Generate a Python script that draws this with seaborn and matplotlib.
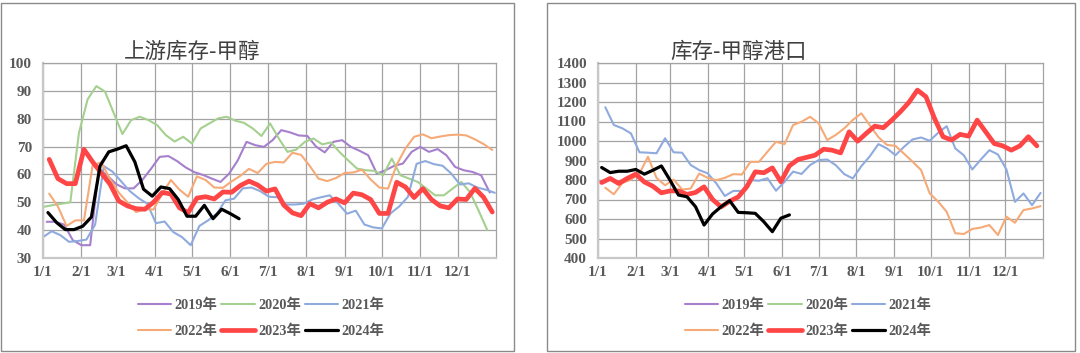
import numpy as np
import pandas as pd
import matplotlib
matplotlib.use('Agg')
import matplotlib.pyplot as plt
from matplotlib.lines import Line2D
from matplotlib.patches import Rectangle
import seaborn as sns

# ---- data (weekly readings) ----
years = ['2019年', '2020年', '2021年', '2022年', '2023年', '2024年']
month_labels = ['1/1', '2/1', '3/1', '4/1', '5/1', '6/1',
                '7/1', '8/1', '9/1', '10/1', '11/1', '12/1']

# upstream methanol inventory (left panel)
up_2019 = [43.0, 43.0, 42.0, 36.4, 34.6, 34.6, 62.0, 59.5, 56.5, 55.0,
           55.0, 58.0, 62.0, 66.3, 66.6, 64.8, 62.5, 60.8, 59.8, 58.5,
           57.3, 60.3, 65.1, 71.7, 70.5, 69.9, 72.3, 75.9, 75.1, 74.0,
           73.8, 70.0, 67.9, 71.7, 72.3, 69.9, 68.5, 66.9, 60.3, 61.5,
           63.1, 63.9, 68.1, 69.9, 68.1, 69.1, 66.9, 62.7, 61.5, 60.9,
           59.7, 53.5]
up_2020 = [48.4, 49.0, 49.5, 50.0, 75.0, 87.0, 91.7, 89.7, 82.0, 74.5,
           79.5, 80.7, 79.5, 77.7, 74.1, 71.8, 73.5, 71.1, 76.5, 78.3,
           80.1, 80.7, 79.3, 78.5, 76.5, 73.8, 78.3, 72.9, 68.1, 68.9,
           71.7, 72.9, 70.8, 71.5, 68.0, 65.0, 62.1, 61.5, 61.3, 59.7,
           65.7, 59.7, 58.5, 57.3, 54.9, 52.5, 52.5, 54.9, 57.3, 53.7,
           47.0, 40.0]
up_2021 = [37.5, 39.6, 38.2, 35.8, 36.1, 36.6, 42.0, 63.0, 61.0, 57.5,
           54.0, 51.5, 49.5, 42.5, 43.1, 39.3, 37.5, 34.6, 41.5, 43.5,
           45.9, 50.7, 51.3, 55.0, 55.3, 54.0, 52.0, 51.8, 49.2, 49.2,
           49.5, 51.0, 51.8, 52.5, 49.5, 45.9, 47.0, 42.0, 41.0, 40.6,
           46.0, 48.5, 51.9, 63.8, 64.8, 63.7, 63.1, 60.3, 56.4, 56.8,
           55.3, 54.5, 53.4]
up_2022 = [53.1, 48.5, 41.5, 43.5, 43.5, 63.3, 64.3, 58.3, 53.5, 50.0,
           46.5, 47.5, 47.4, 53.0, 58.0, 54.5, 52.0, 59.3, 58.0, 55.3,
           55.2, 57.5, 59.5, 62.0, 60.5, 63.8, 64.5, 64.3, 67.8, 67.0,
           63.0, 58.5, 57.6, 58.7, 60.5, 60.7, 61.7, 58.2, 55.3, 54.9,
           63.5, 69.3, 73.5, 74.4, 73.0, 73.6, 74.1, 74.3, 74.0, 72.6,
           70.9, 68.8]
up_2023 = [65.4, 58.5, 56.7, 56.7, 69.0, 64.5, 60.5, 56.5, 50.5, 48.7,
           47.7, 47.5, 50.0, 53.5, 53.0, 48.0, 46.3, 51.5, 52.0, 51.2,
           53.7, 53.6, 56.0, 57.6, 56.2, 54.0, 54.8, 49.0, 46.2, 45.2,
           49.5, 48.0, 50.0, 51.2, 49.8, 53.3, 52.7, 51.0, 46.0, 46.0,
           57.2, 55.5, 51.7, 54.9, 51.0, 48.7, 48.0, 51.2, 51.0, 55.0,
           51.8, 46.5]
up_2024 = [46.3, 42.7, 40.2, 40.2, 41.4, 44.7, 63.1, 68.1, 69.1, 70.3,
           64.5, 54.7, 52.2, 55.5, 54.9, 51.0, 45.0, 45.0, 48.9, 44.1,
           47.5, 45.9, 44.1]

# port methanol inventory (right panel), no 2019/2020 data
port_2021 = [1173, 1082, 1065, 1039, 942, 940, 937, 1014, 942, 940,
             877, 851, 834, 783, 718, 744, 744, 800, 796, 809,
             745, 791, 843, 831, 877, 902, 905, 876, 830, 808,
             871, 922, 984, 962, 927, 970, 1008, 1018, 1001, 1042,
             1076, 962, 927, 854, 905, 953, 931, 854, 688, 731,
             671, 734]
port_2022 = [760, 727, 785, 802, 833, 919, 811, 773, 802, 751,
             756, 833, 811, 799, 811, 830, 828, 893, 893, 945,
             996, 984, 1082, 1099, 1124, 1091, 1005, 1031, 1065, 1108,
             1142, 1080, 1020, 980, 975, 935, 894, 851, 732, 689,
             637, 527, 523, 549, 556, 569, 518, 612, 581, 646,
             654, 666]
port_2023 = [787, 808, 782, 808, 830, 790, 768, 734, 744, 744,
             726, 736, 765, 700, 662, 691, 713, 765, 842, 837,
             862, 791, 873, 905, 916, 927, 958, 953, 939, 1047,
             999, 1039, 1076, 1068, 1107, 1150, 1198, 1261, 1227, 1116,
             1022, 1005, 1034, 1025, 1107, 1047, 987, 975, 953, 975,
             1022, 975]
port_2024 = [864, 838, 845, 845, 854, 830, 850, 872, 800, 723,
             714, 663, 569, 626, 663, 694, 634, 632, 629, 586,
             535, 604, 621]

# first reading of each weekly series (placed on a common dummy year)
up_start = {'2019年': '2023-01-04', '2020年': '2023-01-02', '2021年': '2023-01-01',
            '2022年': '2023-01-06', '2023年': '2023-01-06', '2024年': '2023-01-05'}
port_start = {'2021年': '2023-01-07', '2022年': '2023-01-07',
              '2023年': '2023-01-04', '2024年': '2023-01-04'}

colors = {'2019年': '#A680CC', '2020年': '#A5D08F', '2021年': '#8FABDE',
          '2022年': '#F5AA78', '2023年': '#FF4646', '2024年': '#000000'}
widths = {'2019年': 1.5, '2020年': 1.5, '2021年': 1.5,
          '2022年': 1.5, '2023年': 3.4, '2024年': 2.3}

sns.set_style('white')
plt.rcParams['font.family'] = ['Liberation Serif', 'Noto Sans CJK SC', 'DejaVu Sans']

TICK = dict(family=['Liberation Serif', 'Noto Sans CJK SC'], weight='bold',
            size=11, color='#595959')


def draw_panel(ax, series, starts, ylim, yticks):
    for yr, vals in series.items():
        dates = pd.date_range(starts[yr], periods=len(vals), freq='7D')
        sns.lineplot(x=dates, y=vals, color=colors[yr], lw=widths[yr],
                     ax=ax, zorder=3 if yr in ('2023年', '2024年') else 2)
    ax.set_xlim(pd.Timestamp('2023-01-01'), pd.Timestamp('2024-01-01'))
    ax.set_ylim(*ylim)
    ax.set_yticks(yticks)
    ax.set_yticklabels([str(v) for v in yticks], fontdict=TICK)
    months = pd.date_range('2023-01-01', periods=12, freq='MS')
    ax.set_xticks(months)
    ax.set_xticklabels(month_labels, fontdict=TICK)
    ax.grid(True, color='#a3a3a3', lw=0.9)
    ax.set_axisbelow(True)
    for s in ax.spines.values():
        s.set_color('#a3a3a3')
        s.set_linewidth(0.9)
    ax.spines['left'].set_color('#c8c8c8')
    ax.spines['bottom'].set_color('#c8c8c8')
    ax.spines['left'].set_linewidth(1.6)
    ax.spines['bottom'].set_linewidth(1.6)
    ax.tick_params(axis='x', length=3, color='#c8c8c8', pad=3)
    ax.tick_params(axis='y', length=0, pad=8)
    ax.set_xlabel('')
    ax.set_ylabel('')


def add_legend(cx):
    handles = [Line2D([], [], color=colors[y], lw=widths[y]) for y in years]
    order = [0, 3, 1, 4, 2, 5]
    fig.legend([handles[i] for i in order], [years[i] for i in order],
               ncol=3, loc='center', bbox_to_anchor=(cx, 1 - 318 / 353),
               frameon=False, handlelength=2.35, handletextpad=0.25,
               columnspacing=0.25, labelspacing=0.9,
               prop=dict(family=['Liberation Serif', 'Noto Sans CJK SC'],
                         weight='bold', size=10.3),
               labelcolor='#595959')


fig = plt.figure(figsize=(10.8, 3.53), dpi=100)

# panel frames
for x0, x1 in [(1, 514), (547, 1075)]:
    fig.patches.append(Rectangle((x0 / 1080, 2 / 353), (x1 - x0) / 1080, 348 / 353,
                                 transform=fig.transFigure, fill=False,
                                 ec='#8a8a8a', lw=1.0))

axL = fig.add_axes([43 / 1080, 1 - 258 / 353, 453 / 1080, 195 / 353])
axR = fig.add_axes([598 / 1080, 1 - 258 / 353, 445 / 1080, 195 / 353])

up = {'2019年': up_2019, '2020年': up_2020, '2021年': up_2021,
      '2022年': up_2022, '2023年': up_2023, '2024年': up_2024}
port = {'2021年': port_2021, '2022年': port_2022,
        '2023年': port_2023, '2024年': port_2024}

draw_panel(axL, up, up_start, (30, 100), list(range(30, 101, 10)))
draw_panel(axR, port, port_start, (400, 1400), list(range(400, 1401, 100)))

TITLE = dict(family=['Noto Sans CJK SC', 'DejaVu Sans'], size=15.5,
             color='#404040', va='center', ha='left')
fig.text(124 / 1080, 1 - 52 / 353, '上游库存-甲醇', **TITLE)
fig.text(670 / 1080, 1 - 52 / 353, '库存-甲醇港口', **TITLE)

add_legend(261 / 1080)
add_legend(808 / 1080)

fig.savefig('out.png', dpi=100)
